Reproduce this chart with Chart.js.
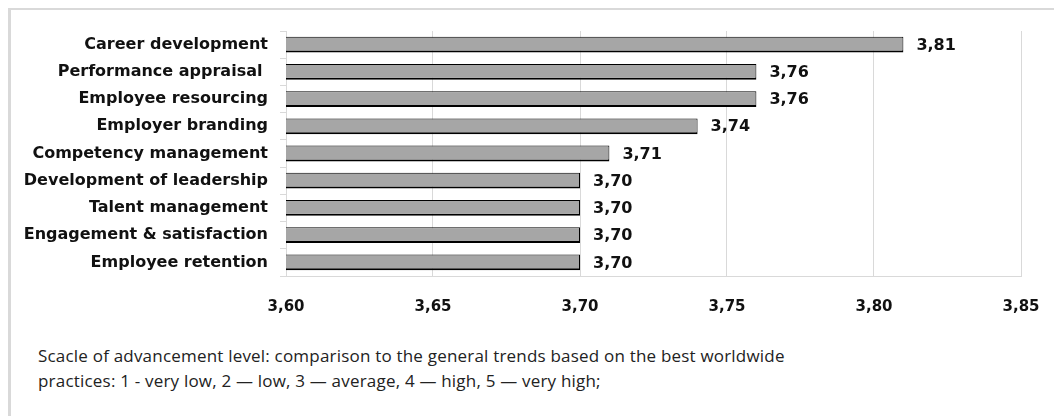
<!DOCTYPE html>
<html>
<head>
<meta charset="utf-8">
<script src="https://cdn.jsdelivr.net/npm/chart.js@4.4.1/dist/chart.umd.min.js"></script>
<style>
  html, body { margin: 0; padding: 0; background: #fff; }
  .frame {
    position: absolute; left: 8px; top: 8px; width: 1046px; height: 408px;
    border-left: 3px solid #d9d9d9; border-top: 2px solid #d9d9d9;
  }
  .wrap { position: absolute; left: 0; top: 0; width: 1054px; height: 338px; }
  .note {
    position: absolute; left: 38px; top: 343px;
    font-family: "Open Sans", sans-serif; font-size: 17px; line-height: 25px;
    color: #222; letter-spacing: 0.2px;
  }
</style>
</head>
<body>
<div class="frame"></div>
<div class="wrap"><canvas id="chart"></canvas></div>
<div class="note">Scacle of advancement level: comparison to the general trends based on the best worldwide<br>practices: 1 - very low, 2 — low, 3 — average, 4 — high, 5 — very high;</div>
<script>
const categories = [
  'Career development',
  'Performance appraisal ',
  'Employee resourcing',
  'Employer branding',
  'Competency management',
  'Development of leadership',
  'Talent management',
  'Engagement & satisfaction',
  'Employee retention'
]
const scores = [3.81, 3.76, 3.76, 3.74, 3.71, 3.70, 3.70, 3.70, 3.70]
const axisMin = 3.60
const axisMax = 3.85
const axisStep = 0.05

const formatComma = v => v.toFixed(2).replace('.', ',')

// value labels to the right of each bar
const valueLabels = {
  id: 'valueLabels',
  afterDatasetsDraw(chart) {
    const ctx = chart.ctx
    const meta = chart.getDatasetMeta(0)
    ctx.save()
    ctx.font = 'bold 16px "DejaVu Sans", sans-serif'
    ctx.fillStyle = '#111'
    ctx.textAlign = 'left'
    ctx.textBaseline = 'middle'
    meta.data.forEach((bar, i) => {
      ctx.fillText(formatComma(scores[i]), bar.x + 13, bar.y + 1)
    })
    ctx.restore()
  }
}

new Chart(document.getElementById('chart'), {
  type: 'bar',
  data: {
    labels: categories,
    datasets: [{
      data: scores,
      backgroundColor: '#a6a6a6',
      borderColor: '#000',
      borderWidth: {top: 1, right: 1, bottom: 2, left: 0},
      borderSkipped: false,
      barPercentage: 0.58,
      categoryPercentage: 1
    }]
  },
  options: {
    indexAxis: 'y',
    responsive: true,
    maintainAspectRatio: false,
    animation: false,
    layout: {padding: {top: 31, right: 33, bottom: 0, left: 0}},
    plugins: {legend: {display: false}, tooltip: {enabled: false}},
    scales: {
      x: {
        min: axisMin,
        max: axisMax,
        afterFit: scale => { scale.paddingRight = 0 },
        ticks: {
          stepSize: axisStep,
          padding: 22,
          color: '#111',
          font: {family: '"DejaVu Sans", sans-serif', size: 15, weight: 'bold'},
          callback: v => formatComma(v)
        },
        grid: {color: '#d9d9d9', drawTicks: false},
        border: {color: '#d9d9d9'}
      },
      y: {
        afterFit: scale => { scale.width = 286 },
        ticks: {
          padding: 12,
          color: '#111',
          font: {family: '"DejaVu Sans", sans-serif', size: 16, weight: 'bold'}
        },
        grid: {drawOnChartArea: false, color: '#d9d9d9', tickLength: 6},
        border: {color: '#d9d9d9'}
      }
    }
  },
  plugins: [valueLabels]
})
</script>
</body>
</html>
